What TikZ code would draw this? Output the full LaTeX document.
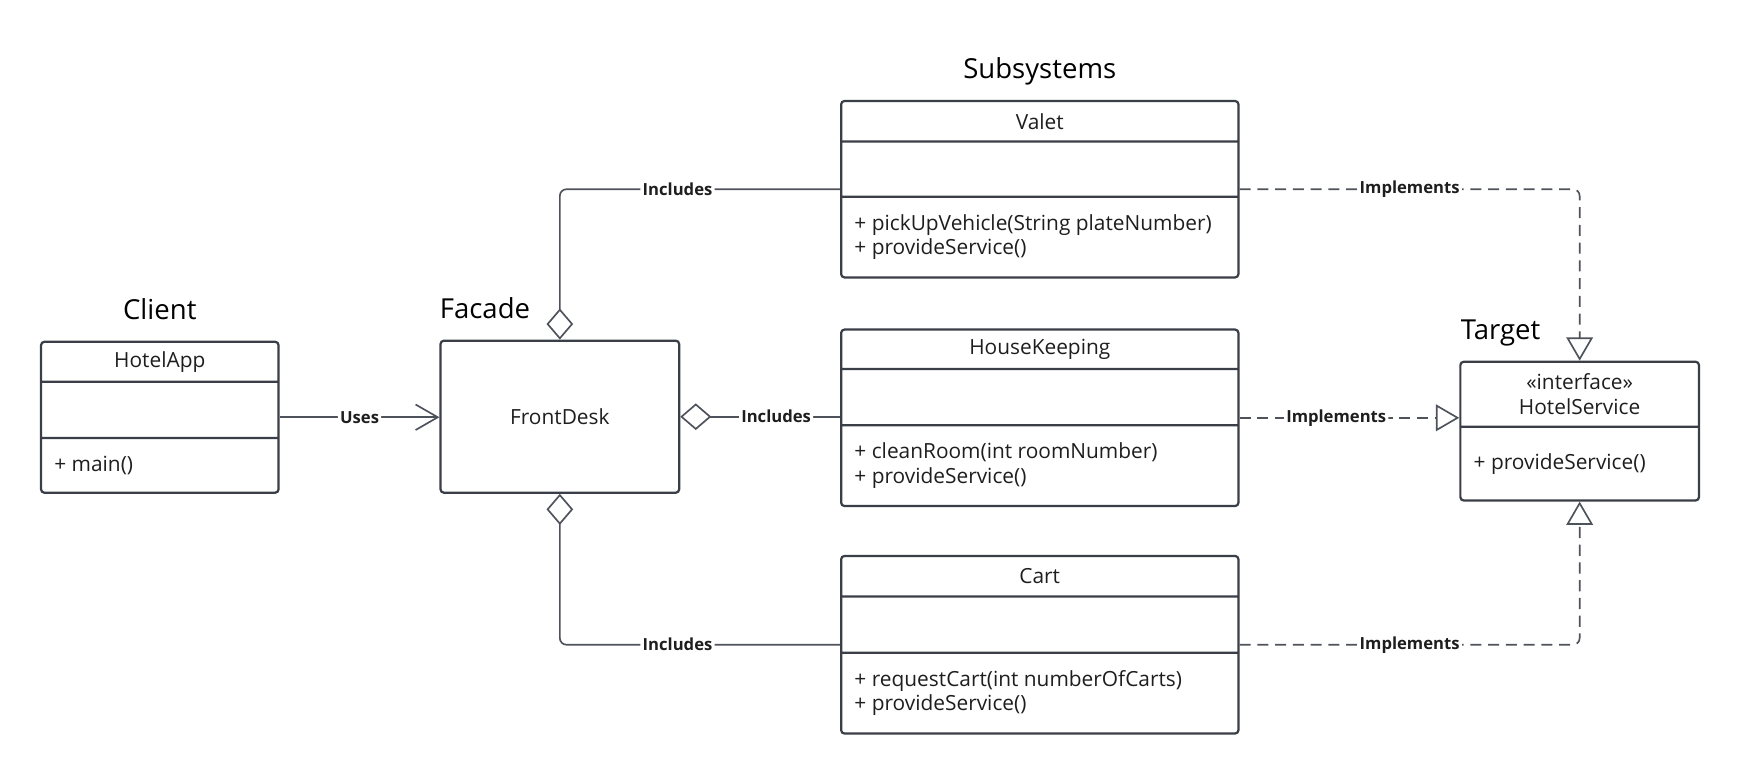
\documentclass[tikz,border=0pt]{standalone}
\usepackage{fontspec}
\setmainfont{Open Sans}
\usetikzlibrary{arrows.meta,positioning,shapes.multipart}

\definecolor{lineclr}{HTML}{3A3E46}
\definecolor{edgeclr}{HTML}{4E525A}
\definecolor{txtclr}{HTML}{1E1E1E}

\newcommand{\headpart}[3]{\parbox[c][#2][c]{#1}{\centering #3}}
\newcommand{\bodypart}[3]{\parbox[c][#2][c]{#1}{\raggedright\leftskip=6pt #3}}

\tikzset{
  classbox/.style={rectangle split,rectangle split parts=3,draw=lineclr,line width=1pt,
    rounded corners=1.5pt,inner sep=0pt,text=txtclr,font=\fontsize{9.4}{11}\selectfont},
  deskbox/.style={draw=lineclr,line width=1pt,rounded corners=1.5pt,minimum width=107.5pt,
    minimum height=68.5pt,text=txtclr,font=\fontsize{9.4}{11}\selectfont},
  grp/.style={inner sep=0pt,text depth=0pt,text=black,font=\fontsize{12.4}{14}\selectfont},
  lbl/.style={fill=white,inner sep=1pt,text=txtclr,font=\bfseries\fontsize{7.5}{9}\selectfont},
  edge/.style={draw=edgeclr,line width=0.75pt,rounded corners=3pt},
  uses/.style={edge,-{Straight Barb[length=10pt,width=11.5pt]}},
  incl/.style={edge,{Diamond[open,length=14pt,width=12pt]}-},
  impl/.style={edge,dash pattern=on 5pt off 3pt,-{Triangle[open,length=10.5pt,width=12pt]}}
}

\begin{document}
\begin{tikzpicture}[x=0.5pt,y=-0.5pt]
  \useasboundingbox (0,0) rectangle (1568,696.6);
  % classes
  \node[classbox,anchor=north] at (144,307) (app) {\headpart{107pt}{17pt}{HotelApp}
    \nodepart{two}\headpart{107pt}{24.3pt}{}
    \nodepart{three}\bodypart{107pt}{23.7pt}{+ main()}};
  \node[deskbox] at (504.5,375.5) (desk) {FrontDesk};
  \node[classbox,anchor=north] at (937,90) (valet) {\headpart{179pt}{17.3pt}{Valet}
    \nodepart{two}\headpart{179pt}{23.8pt}{}
    \nodepart{three}\bodypart{179pt}{35.4pt}{+ pickUpVehicle(String plateNumber)\\+ provideService()}};
  \node[classbox,anchor=north] at (937,296) (hk) {\headpart{179pt}{16.8pt}{HouseKeeping}
    \nodepart{two}\headpart{179pt}{24.3pt}{}
    \nodepart{three}\bodypart{179pt}{35.4pt}{+ cleanRoom(int roomNumber)\\+ provideService()}};
  \node[classbox,anchor=north] at (937,500) (cart) {\headpart{179pt}{17.3pt}{Cart}
    \nodepart{two}\headpart{179pt}{24.3pt}{}
    \nodepart{three}\bodypart{179pt}{35.4pt}{+ requestCart(int numberOfCarts)\\+ provideService()}};
  \node[classbox,rectangle split parts=2,anchor=north] at (1423.5,325) (svc)
    {\headpart{107.5pt}{28.3pt}{«interface»\\HotelService}
    \nodepart{two}\bodypart{107.5pt}{32.2pt}{+ provideService()}};
  % group titles
  \node[grp,above=9.5pt of app] (client) {Client};
  \node[grp,above right=9.5pt and 0pt of desk.north west] (facade) {Facade};
  \node[grp,above=9.5pt of valet] (subsys) {Subsystems};
  \node[grp,above right=9.5pt and 0.5pt of svc.north west] (target) {Target};
  % relations
  \draw[uses] (app.east) -- (app.east -| desk.west) node[lbl,midway] {Uses};
  \draw[incl] (desk.north) |- (valet.west) node[lbl,pos=0.71] {Includes};
  \draw[incl] (desk.east) -- (desk.east -| hk.west) node[lbl,pos=0.6] {Includes};
  \draw[incl] (desk.south) |- (cart.west) node[lbl,pos=0.71] {Includes};
  \draw[impl] (valet.east) -| (svc.north) node[lbl,pos=0.25] {Implements};
  \draw[impl] (hk.east) -- (hk.east -| svc.west) node[lbl,pos=0.44] {Implements};
  \draw[impl] (cart.east) -| (svc.south) node[lbl,pos=0.25] {Implements};
\end{tikzpicture}
\end{document}
